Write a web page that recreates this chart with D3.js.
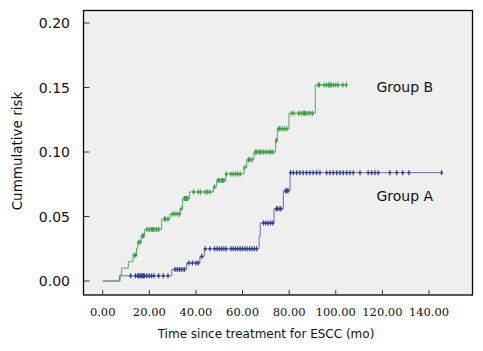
<!DOCTYPE html>
<html lang="en">
<head>
<meta charset="UTF-8">
<title>Cumulative risk by group</title>
<style>
  body { margin: 0; background: #fff; }
  svg { display: block; }
  .ylab { font-family: 'DejaVu Sans', sans-serif; font-size: 14px; fill: #111; }
  .xlab { font-family: 'DejaVu Serif', serif; font-size: 11.5px; fill: #111; }
  .title { font-family: 'DejaVu Sans', sans-serif; fill: #111; }
</style>
</head>
<body>
<div id="chart"></div>
<script src="https://d3js.org/d3.v7.min.js"></script>
<script>
// step events: [time (mo), cumulative risk after the event]
const groupBEvents = [
  [7.5, 0.005], [8.1, 0.010], [11.0, 0.015], [13.0, 0.020], [14.5, 0.025], [15.0, 0.030],
  [16.5, 0.035], [18.0, 0.040], [25.3, 0.048], [28.9, 0.052], [33.2, 0.056], [34.3, 0.064],
  [37.2, 0.069], [47.5, 0.073], [48.9, 0.078], [52.8, 0.083], [60.6, 0.088], [61.8, 0.094],
  [64.9, 0.100], [74.2, 0.109], [74.9, 0.118], [79.9, 0.130], [91.2, 0.152]
];
const groupBEnd = 104.9;
const groupBCensored = [
  13.5, 14.2, 15.5, 16, 17, 17.5, 19, 20, 21, 21.5, 22, 23, 24, 26.5, 27, 28,
  30, 31, 32, 33, 33.7, 35, 35.5, 36, 36.5, 39, 41, 42, 44, 45, 46, 48,
  49.5, 50, 51, 51.5, 52, 53, 55, 56, 57, 58, 59, 61, 62.5, 63, 64,
  65.5, 66, 67, 67.5, 68, 69, 70, 71, 72, 73, 74.5, 75.5, 76, 77, 78, 79,
  81, 82, 84, 85, 86, 86.5, 87, 88, 89, 90,
  92.5, 93, 95, 96, 97, 97.5, 98, 99, 100, 101, 103, 104.5
];

const groupAEvents = [
  [7.2, 0.004], [29.6, 0.009], [36.0, 0.014], [41.7, 0.019], [43.6, 0.025],
  [67.1, 0.035], [67.6, 0.045], [73.5, 0.056], [77.5, 0.070], [80.4, 0.084]
];
const groupAEnd = 145.4;
const groupACensored = [
  12, 14, 15, 15.5, 16, 16.5, 17, 17.5, 18, 19, 20, 21, 22, 24, 26, 28,
  31, 32, 33, 34, 35, 37, 38.5, 40, 41, 42.5,
  44, 46, 48, 49, 50, 51, 52, 53, 55, 56, 57, 58, 59, 60, 61, 62, 63, 64, 65, 66,
  69, 70, 71, 72, 73, 74.5, 75, 76, 76.5, 78.5, 79, 79.5,
  80.6, 81.8, 83.2, 84.6, 86, 87.5, 88.9, 90.3, 91.8, 93.2, 96.1, 97.5, 98.9,
  100.4, 101.8, 103.2, 104.7, 106.1, 107.5, 110.4, 113.9, 115.4, 116.8, 118.2,
  123.2, 126.1, 128.7, 131.4, 145.4
];

const xTicks = [0, 20, 40, 60, 80, 100, 120, 140];
const yTicks = [0, 0.05, 0.10, 0.15, 0.20];

const width = 483, height = 351;
const frame = { left: 83.5, top: 10.5, right: 472.5, bottom: 295 };

const svg = d3.select("#chart").append("svg")
  .attr("width", width)
  .attr("height", height);

const x = d3.scaleLinear().domain([0, 140]).range([102.7, 429]);
const y = d3.scaleLinear().domain([0, 0.2]).range([281, 23]);

// plot area
svg.append("rect")
  .attr("x", frame.left).attr("y", frame.top)
  .attr("width", frame.right - frame.left)
  .attr("height", frame.bottom - frame.top)
  .attr("fill", "#efefef")
  .attr("stroke", "#000")
  .attr("stroke-width", 1.3);

// y axis ticks + labels
svg.append("g").selectAll("line").data(yTicks).join("line")
  .attr("x1", frame.left).attr("x2", frame.left + 6)
  .attr("y1", d => y(d)).attr("y2", d => y(d))
  .attr("stroke", "#333");
svg.append("g").selectAll("text").data(yTicks).join("text")
  .attr("class", "ylab")
  .attr("x", 70).attr("y", d => y(d))
  .attr("dy", "0.36em")
  .attr("text-anchor", "end")
  .text(d => d3.format(".2f")(d));

// x axis ticks + labels
svg.append("g").selectAll("line").data(xTicks).join("line")
  .attr("x1", d => x(d)).attr("x2", d => x(d))
  .attr("y1", frame.bottom).attr("y2", frame.bottom - 5)
  .attr("stroke", "#333");
svg.append("g").selectAll("text").data(xTicks).join("text")
  .attr("class", "xlab")
  .attr("x", d => x(d)).attr("y", 316)
  .attr("text-anchor", "middle")
  .text(d => d3.format(".2f")(d));

svg.append("text")
  .attr("class", "title")
  .attr("x", 266).attr("y", 338)
  .attr("text-anchor", "middle")
  .style("font-size", "12px")
  .text("Time since treatment for ESCC (mo)");

svg.append("text")
  .attr("class", "title")
  .attr("transform", "translate(22,151) rotate(-90)")
  .attr("text-anchor", "middle")
  .style("font-size", "13.5px")
  .text("Cummulative risk");

// step function helpers
function stepPoints(events, end) {
  const pts = [[0, 0]];
  events.forEach(([t, r]) => pts.push([t, r]));
  pts.push([end, events[events.length - 1][1]]);
  return pts;
}
function riskAt(events, t) {
  let r = 0;
  events.forEach(e => { if (e[0] <= t) r = e[1]; });
  return r;
}

const line = d3.line()
  .x(d => x(d[0]))
  .y(d => y(d[1]))
  .curve(d3.curveStepAfter);

function drawGroup(events, end, censored, lineColor, markColor) {
  const g = svg.append("g");
  g.append("path")
    .datum(stepPoints(events, end))
    .attr("fill", "none")
    .attr("stroke", lineColor)
    .attr("stroke-width", 1)
    .attr("d", line);
  g.selectAll("line.cens").data(censored).join("line")
    .attr("class", "cens")
    .attr("x1", d => x(d)).attr("x2", d => x(d))
    .attr("y1", d => y(riskAt(events, d)) - 2.5)
    .attr("y2", d => y(riskAt(events, d)) + 2.5)
    .attr("stroke", markColor)
    .attr("stroke-width", 1.2);
  g.selectAll("line.seg").data(censored).join("line")
    .attr("class", "seg")
    .attr("x1", d => x(d) - 1.5).attr("x2", d => x(d) + 1.5)
    .attr("y1", d => y(riskAt(events, d)))
    .attr("y2", d => y(riskAt(events, d)))
    .attr("stroke", markColor)
    .attr("stroke-width", 1.5);
}

drawGroup(groupAEvents, groupAEnd, groupACensored, "#6b70a8", "#2f3b92");
drawGroup(groupBEvents, groupBEnd, groupBCensored, "#5aa85a", "#33a343");

// group labels
svg.append("text").attr("class", "title")
  .attr("x", 376.5).attr("y", 92)
  .style("font-size", "14px")
  .text("Group B");
svg.append("text").attr("class", "title")
  .attr("x", 376.5).attr("y", 201)
  .style("font-size", "14px")
  .text("Group A");
</script>
</body>
</html>
